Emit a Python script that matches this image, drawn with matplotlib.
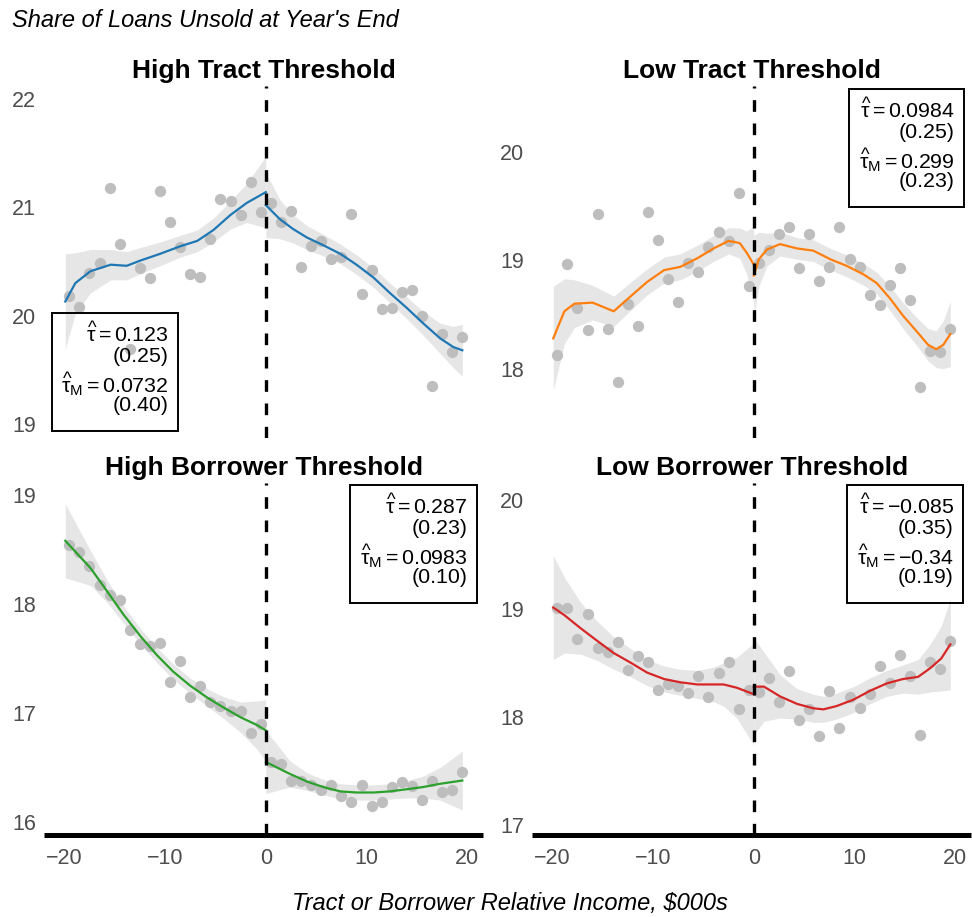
import numpy as np
import matplotlib.pyplot as plt
from matplotlib.patches import Rectangle

plt.rcParams['font.family'] = 'Liberation Sans'
plt.rcParams['mathtext.fontset'] = 'custom'
plt.rcParams['mathtext.rm'] = 'Liberation Sans'
plt.rcParams['mathtext.it'] = 'Liberation Sans:italic'
plt.rcParams['mathtext.bf'] = 'Liberation Sans:bold'

# bin centres, $000s relative to the threshold
bins_left = [-19.5, -18.5, -17.5, -16.5, -15.5, -14.5, -13.5, -12.5, -11.5, -10.5,
             -9.5, -8.5, -7.5, -6.5, -5.5, -4.5, -3.5, -2.5, -1.5, -0.5]
bins_right = [0.5, 1.5, 2.5, 3.5, 4.5, 5.5, 6.5, 7.5, 8.5, 9.5,
              10.5, 11.5, 12.5, 13.5, 14.5, 15.5, 16.5, 17.5, 18.5, 19.5]

# ---- High Tract Threshold
ht_left = [20.18, 20.08, 20.39, 20.49, 21.18, 20.66, 19.69, 20.44, 20.35, 21.15,
           20.86, 20.63, 20.38, 20.36, 20.71, 21.08, 21.06, 20.93, 21.23, 20.96]
ht_right = [21.04, 20.86, 20.97, 20.45, 20.64, 20.69, 20.52, 20.54, 20.94, 20.20,
            20.42, 20.06, 20.07, 20.22, 20.24, 20.00, 19.35, 19.83, 19.66, 19.80]
ht_fit_lx = [-19.9, -18.9, -17.4, -15.4, -13.8, -12.4, -10.5, -8.5, -6.8, -5.2, -3.5, -1.9, 0.0]
ht_fit_ly = [20.13, 20.30, 20.41, 20.47, 20.46, 20.51, 20.57, 20.64, 20.69, 20.79, 20.93, 21.04, 21.14]
ht_fit_lse = [0.44, 0.28, 0.20, 0.14, 0.13, 0.12, 0.11, 0.10, 0.10, 0.11, 0.13, 0.18, 0.33]
ht_fit_rx = [0.0, 1.4, 2.7, 4.1, 5.7, 7.4, 9.0, 10.7, 12.3, 14.0, 15.6, 17.3, 18.6, 19.5]
ht_fit_ry = [21.02, 20.89, 20.80, 20.72, 20.65, 20.57, 20.47, 20.35, 20.21, 20.07, 19.93, 19.79, 19.71, 19.68]
ht_fit_rse = [0.30, 0.18, 0.13, 0.11, 0.10, 0.09, 0.09, 0.09, 0.09, 0.10, 0.11, 0.14, 0.19, 0.24]

# ---- Low Tract Threshold
lt_left = [18.13, 18.97, 18.56, 18.36, 19.43, 18.37, 17.88, 18.60, 18.39, 19.45,
           19.19, 18.83, 18.62, 18.98, 18.89, 19.12, 19.26, 19.18, 19.62, 18.76]
lt_right = [18.98, 19.10, 19.24, 19.31, 18.93, 19.24, 18.81, 18.94, 19.31, 19.01,
            18.94, 18.68, 18.59, 18.77, 18.93, 18.63, 17.83, 18.16, 18.15, 18.37]
lt_fit_lx = [-19.9, -18.8, -17.8, -16.0, -13.9, -12.2, -10.6, -8.9, -7.3, -5.6, -4.0, -2.5, -1.4, -0.7, 0.0]
lt_fit_ly = [18.28, 18.53, 18.60, 18.61, 18.53, 18.67, 18.80, 18.91, 18.94, 19.02, 19.11, 19.18, 19.16, 19.07, 18.96]
lt_fit_lse = [0.48, 0.30, 0.22, 0.16, 0.14, 0.13, 0.12, 0.12, 0.12, 0.12, 0.12, 0.12, 0.14, 0.20, 0.36]
lt_fit_rx = [0.0, 0.5, 1.3, 2.6, 4.3, 5.9, 7.6, 9.2, 10.9, 12.2, 13.5, 14.8, 16.2, 17.3, 18.1, 18.8, 19.5]
lt_fit_ry = [18.86, 19.01, 19.10, 19.15, 19.11, 19.09, 19.01, 18.95, 18.87, 18.79, 18.65, 18.49, 18.34,
             18.22, 18.18, 18.22, 18.32]
lt_fit_rse = [0.37, 0.25, 0.15, 0.11, 0.10, 0.10, 0.10, 0.10, 0.10, 0.10, 0.11, 0.12, 0.13,
              0.15, 0.17, 0.22, 0.30]

# ---- High Borrower Threshold
hb_left = [18.54, 18.48, 18.35, 18.17, 18.08, 18.04, 17.76, 17.63, 17.61, 17.64,
           17.28, 17.48, 17.15, 17.25, 17.10, 17.06, 17.02, 17.02, 16.82, 16.90]
hb_right = [16.55, 16.53, 16.38, 16.38, 16.34, 16.29, 16.34, 16.24, 16.18, 16.34,
            16.15, 16.18, 16.32, 16.37, 16.33, 16.20, 16.38, 16.27, 16.29, 16.46]
hb_fit_lx = [-19.9, -17.4, -15.7, -14.1, -12.4, -10.8, -9.2, -7.5, -5.8, -4.2, -2.5, -0.9, 0.0]
hb_fit_ly = [18.58, 18.33, 18.11, 17.90, 17.70, 17.53, 17.38, 17.25, 17.14, 17.05, 16.96, 16.89, 16.84]
hb_fit_lse = [0.34, 0.16, 0.10, 0.08, 0.07, 0.07, 0.07, 0.07, 0.08, 0.10, 0.14, 0.22, 0.28]
hb_fit_rx = [0.0, 2.4, 4.1, 5.7, 7.4, 9.0, 10.7, 12.3, 14.0, 15.6, 17.3, 19.5]
hb_fit_ry = [16.55, 16.44, 16.37, 16.32, 16.28, 16.27, 16.27, 16.28, 16.30, 16.32, 16.35, 16.38]
hb_fit_rse = [0.29, 0.12, 0.08, 0.07, 0.07, 0.07, 0.07, 0.07, 0.08, 0.10, 0.15, 0.27]

# ---- Low Borrower Threshold
lb_left = [19.01, 19.01, 18.72, 18.95, 18.64, 18.60, 18.69, 18.43, 18.56, 18.51,
           18.25, 18.30, 18.29, 18.22, 18.38, 18.18, 18.41, 18.51, 18.07, 18.25]
lb_right = [18.23, 18.36, 18.14, 18.42, 17.97, 18.07, 17.82, 18.24, 17.90, 18.18,
            18.08, 18.21, 18.47, 18.31, 18.57, 18.38, 17.83, 18.51, 18.44, 18.70]
lb_fit_lx = [-19.9, -18.8, -17.2, -15.5, -13.9, -12.2, -10.6, -8.9, -7.3, -5.6, -4.0, -3.0, -1.7, 0.0]
lb_fit_ly = [19.01, 18.94, 18.82, 18.70, 18.59, 18.50, 18.41, 18.35, 18.32, 18.30, 18.30, 18.30, 18.27, 18.21]
lb_fit_lse = [0.48, 0.35, 0.24, 0.18, 0.15, 0.13, 0.12, 0.12, 0.12, 0.13, 0.16, 0.20, 0.28, 0.47]
lb_fit_rx = [0.0, 1.0, 2.6, 4.3, 5.9, 6.9, 8.2, 9.9, 11.5, 13.2, 14.8, 16.3, 17.5, 18.6, 19.5]
lb_fit_ry = [18.28, 18.28, 18.19, 18.12, 18.08, 18.07, 18.10, 18.16, 18.24, 18.31, 18.35, 18.37,
             18.45, 18.54, 18.67]
lb_fit_rse = [0.45, 0.32, 0.20, 0.14, 0.13, 0.12, 0.12, 0.12, 0.12, 0.12, 0.13, 0.16, 0.22, 0.30, 0.42]

titles = ['High Tract Threshold', 'Low Tract Threshold',
          'High Borrower Threshold', 'Low Borrower Threshold']
colors = ['#1F77B4', '#FF7F0E', '#2CA02C', '#D62728']
tau = ['0.123', '0.0984', '0.287', '{-0.085}']
tau_se = ['(0.25)', '(0.25)', '(0.23)', '(0.35)']
tau_m = ['0.0732', '0.299', '0.0983', '{-0.34}']
tau_m_se = ['(0.40)', '(0.23)', '(0.10)', '(0.19)']
ylims = [(18.87, 22.12), (17.36, 20.61), (15.88, 19.11), (16.91, 20.16)]
yticks = [[19, 20, 21, 22], [18, 19, 20], [16, 17, 18, 19], [17, 18, 19, 20]]
# box corners in axes fraction (x0, y0, x1, y1)
boxes = [(0.018, 0.021, 0.304, 0.354), (0.722, 0.657, 0.983, 0.991),
         (0.696, 0.660, 0.985, 0.994), (0.716, 0.660, 0.982, 0.994)]

panels = [
    (ht_left, ht_right, ht_fit_lx, ht_fit_ly, ht_fit_lse, ht_fit_rx, ht_fit_ry, ht_fit_rse),
    (lt_left, lt_right, lt_fit_lx, lt_fit_ly, lt_fit_lse, lt_fit_rx, lt_fit_ry, lt_fit_rse),
    (hb_left, hb_right, hb_fit_lx, hb_fit_ly, hb_fit_lse, hb_fit_rx, hb_fit_ry, hb_fit_rse),
    (lb_left, lb_right, lb_fit_lx, lb_fit_ly, lb_fit_lse, lb_fit_rx, lb_fit_ry, lb_fit_rse),
]

W, H = 972, 917
fig = plt.figure(figsize=(W / 100, H / 100), dpi=100)
col_x = [44.3, 532.3]
row_bottom = [438, 835]
ax_w, ax_h = 439, 352

for k in range(4):
    r, c = divmod(k, 2)
    ax = fig.add_axes([col_x[c] / W, 1 - row_bottom[r] / H, ax_w / W, ax_h / H])
    pl, pr, lx, ly, lse, rx, ry, rse = panels[k]

    for fx, fy, fse in [(lx, ly, lse), (rx, ry, rse)]:
        fx, fy, fse = np.array(fx), np.array(fy), np.array(fse)
        ax.fill_between(fx, fy - fse, fy + fse, color='#E6E6E6', lw=0, zorder=1)
    ax.scatter(bins_left + bins_right, pl + pr, s=66, color='#BEBEBE', lw=0, zorder=2)
    for fx, fy in [(lx, ly), (rx, ry)]:
        ax.plot(fx, fy, color=colors[k], lw=1.6, zorder=3)
    ax.axvline(0, color='black', lw=2.4, ls=(0, (3.5, 3.5)), zorder=4)

    ax.set_xlim(-21.98, 21.58)
    ax.set_ylim(*ylims[k])
    ax.set_yticks(yticks[k])
    ax.set_xticks([-20, -10, 0, 10, 20])
    ax.tick_params(length=0, labelsize=15.5, labelcolor='#4D4D4D', pad=6)
    ax.tick_params(axis='x', pad=9)
    for s in ['top', 'left', 'right']:
        ax.spines[s].set_visible(False)
    if r == 0:
        ax.spines['bottom'].set_visible(False)
        ax.set_xticklabels([])
    else:
        ax.spines['bottom'].set_linewidth(3.6)
        ax.spines['bottom'].set_capstyle('butt')
    ax.set_title(titles[k], fontsize=19, fontweight='bold', pad=6)

    x0, y0, x1, y1 = boxes[k]
    ax.add_patch(Rectangle((x0, y0), x1 - x0, y1 - y0, transform=ax.transAxes,
                           fill=False, ec='black', lw=1.4, zorder=6, clip_on=False))
    lines = [r'$\widehat{\mathrm{\tau}} = %s$' % tau[k], tau_se[k],
             r'$\widehat{\mathrm{\tau}}_\mathrm{M} = %s$' % tau_m[k], tau_m_se[k]]
    offsets = [29, 48.5, 79.5, 98]
    for txt, off in zip(lines, offsets):
        ax.text(x1 - 9.5 / ax_w, y1 - off / ax_h, txt, transform=ax.transAxes,
                ha='right', va='baseline', fontsize=15.4, zorder=7)

fig.text(12 / W, 1 - 26.7 / H, "Share of Loans Unsold at Year's End",
         fontsize=17, style='italic', ha='left', va='baseline')
fig.text(510 / W, 1 - 910 / H, 'Tract or Borrower Relative Income, $000s',
         fontsize=17, style='italic', ha='center', va='baseline')

fig.savefig('out.png', dpi=100)
